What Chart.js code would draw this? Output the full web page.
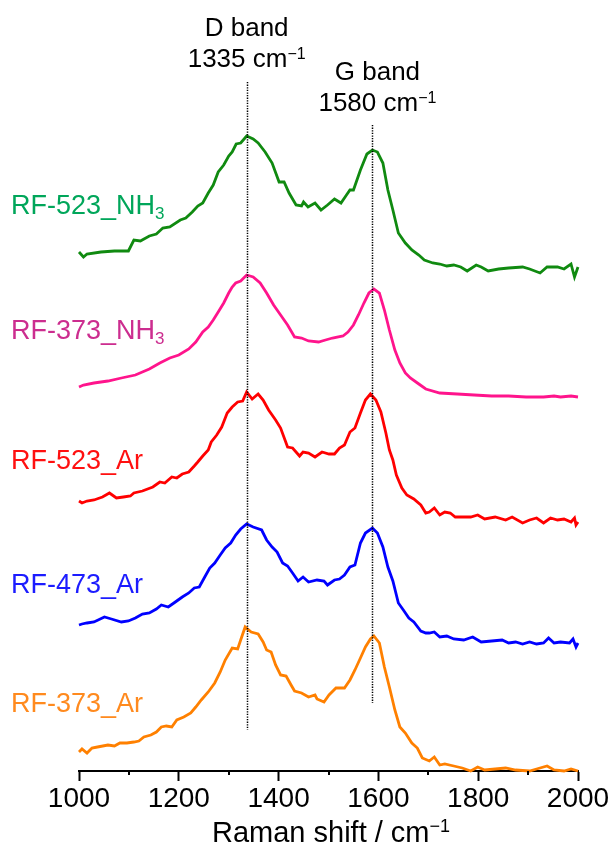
<!DOCTYPE html>
<html>
<head>
<meta charset="utf-8">
<script src="https://cdn.jsdelivr.net/npm/chart.js@4.4.1/dist/chart.umd.min.js"></script>
<style>
  html, body { margin: 0; padding: 0; background: #fff; }
  #wrap { width: 613px; height: 854px; }
</style>
</head>
<body>
<div id="wrap"><canvas id="raman" width="613" height="854"></canvas></div>
<script>
// Raman spectra, stacked (intensity in a.u., vertical offset already included)
const shift_523NH3 = [1000,1009,1016,1044,1071,1099,1110,1123,1141,1155,1168,1182,1203,1214,1227,1238,1248,1259,1269,1279,1290,1300,1307,1315,1324,1336,1349,1359,1373,1387,1401,1411,1421,1435,1446,1450,1459,1473,1485,1498,1512,1525,1536,1543,1550,1564,1577,1588,1598,1609,1619,1629,1640,1654,1667,1681,1692,1709,1723,1737,1751,1765,1778,1796,1806,1820,1841,1861,1889,1903,1924,1938,1959,1972,1986,1993,2000];
const int_523NH3 = [519,514,517,519,520,520,531,530,535,537,543,544,551,553,559,565,568,578,586,599,606,615,619,627,628,635,632,628,619,608,589,589,578,566,565,569,564,568,561,566,572,568,576,581,581,601,617,621,619,608,581,561,538,528,521,516,511,508,507,505,506,504,500,506,504,500,502,503,504,502,498,504,504,502,507,494,504];

const shift_373NH3 = [1000,1009,1030,1058,1085,1113,1141,1162,1182,1200,1220,1234,1248,1259,1269,1279,1290,1300,1307,1314,1324,1336,1349,1363,1376,1390,1404,1418,1432,1446,1460,1480,1494,1508,1529,1539,1550,1560,1571,1581,1591,1602,1612,1622,1633,1643,1654,1664,1681,1695,1723,1758,1792,1827,1861,1896,1931,1952,1965,1986,2000];
const int_373NH3 = [384,386,388,390,393,396,402,408,413,416,422,429,439,444,451,459,468,478,484,488,490,496,494,488,478,466,456,446,434,433,430,429,431,433,435,439,446,456,468,478,482,478,461,441,421,408,398,393,387,382,378,377,376,375,375,374,374,375,374,375,374];

const shift_523Ar = [1000,1006,1016,1030,1047,1061,1075,1089,1103,1110,1127,1148,1162,1172,1186,1196,1207,1220,1231,1238,1248,1259,1265,1276,1286,1297,1307,1318,1328,1336,1347,1359,1369,1380,1394,1404,1418,1428,1442,1449,1460,1473,1487,1501,1512,1522,1532,1543,1553,1564,1574,1584,1595,1605,1615,1622,1629,1636,1647,1657,1671,1685,1695,1702,1712,1723,1733,1744,1754,1771,1785,1799,1813,1834,1855,1868,1889,1903,1917,1931,1945,1959,1972,1986,1993,1996,2000];
const int_523Ar = [270,268,270,271,274,278,273,274,275,278,280,284,289,288,294,293,297,299,305,309,315,321,329,336,344,358,364,369,370,379,372,377,371,361,351,343,324,323,315,319,318,314,319,317,317,323,326,339,343,358,371,377,371,359,338,321,311,296,283,276,272,266,258,259,263,256,259,258,254,254,254,256,252,254,251,254,248,251,253,248,253,251,252,249,253,246,249];

const shift_473Ar = [1000,1006,1016,1030,1051,1065,1085,1099,1113,1127,1141,1155,1165,1179,1193,1207,1220,1231,1241,1252,1262,1272,1283,1293,1304,1314,1324,1336,1349,1366,1376,1387,1397,1408,1418,1428,1439,1449,1460,1477,1491,1498,1512,1522,1532,1543,1553,1564,1574,1588,1598,1609,1619,1629,1640,1650,1661,1671,1685,1695,1702,1712,1723,1737,1751,1771,1789,1806,1827,1848,1861,1875,1889,1903,1917,1931,1941,1952,1965,1983,1990,1996,2000];
const int_473Ar = [146,147,148,149,154,152,149,150,153,157,158,162,166,164,169,174,178,183,184,194,203,208,216,223,228,236,242,247,244,241,231,224,219,208,205,198,190,194,189,191,190,186,191,192,196,204,206,228,238,243,238,224,204,190,168,161,153,149,140,138,138,139,134,135,132,131,134,129,130,131,128,129,127,129,127,128,133,128,129,128,132,124,128];

const shift_373Ar = [1000,1006,1016,1026,1037,1058,1071,1082,1096,1110,1120,1130,1144,1155,1165,1175,1186,1196,1210,1224,1234,1245,1259,1272,1283,1293,1307,1318,1324,1333,1345,1359,1369,1376,1385,1394,1404,1415,1425,1432,1446,1460,1473,1477,1491,1501,1515,1532,1543,1553,1564,1574,1584,1591,1602,1612,1622,1633,1643,1654,1667,1678,1688,1702,1712,1723,1733,1751,1768,1785,1799,1813,1834,1855,1875,1903,1917,1938,1952,1972,1986,2000];
const int_373Ar = [19,22,18,23,24,26,25,28,28,29,30,34,36,39,44,45,44,51,54,58,64,71,79,88,99,111,123,122,131,144,139,137,129,121,119,106,96,95,86,80,78,74,76,72,69,76,83,83,91,101,113,124,132,135,128,104,84,61,44,38,28,23,13,10,14,6,7,5,3,0,4,1,2,3,1,0,2,5,1,0,2,0];

const sampleNames = ['RF-523_NH', 'RF-373_NH', 'RF-523_Ar', 'RF-473_Ar', 'RF-373_Ar'];
const sampleSubs  = ['3', '3', '', '', ''];

// band markers
const bandNames = ['D band', 'G band'];
const bandShift = [1335, 1580];
const bandLinePos = [1336, 1588];
const bandLineTop = [689, 646];
const bandLineBottom = [41, 68];

const xTicks = [1000, 1200, 1400, 1600, 1800, 2000];
const xMinorTicks = [1100, 1300, 1500, 1700, 1900];

const FONT = '"Liberation Sans", Arial, sans-serif';
const lineColors  = ['#108a10', '#ff148c', '#ff0000', '#0000ff', '#ff8000'];
const labelColors = ['#00a65a', '#cc2d8f', '#ff1010', '#1c1cff', '#ff8a1e'];
const labelBase   = [214, 339, 469, 593, 712];

const shifts = [shift_523NH3, shift_373NH3, shift_523Ar, shift_473Ar, shift_373Ar];
const ints = [int_523NH3, int_373NH3, int_523Ar, int_473Ar, int_373Ar];

const datasets = shifts.map((xs, i) => ({
    label: sampleNames[i] + sampleSubs[i],
    data: xs.map((v, j) => ({ x: v, y: ints[i][j] })),
    borderColor: lineColors[i],
    borderWidth: 2.8,
    pointRadius: 0,
    tension: 0,
    clip: false,
}));

function textWithScript(ctx, main, extra, x, base, size, extraSize, shiftY, align) {
    ctx.font = size + 'px ' + FONT;
    const w1 = ctx.measureText(main).width;
    ctx.font = extraSize + 'px ' + FONT;
    const w2 = ctx.measureText(extra).width;
    const x0 = align === 'center' ? x - (w1 + w2) / 2 : x;
    ctx.textAlign = 'left';
    ctx.textBaseline = 'alphabetic';
    ctx.font = size + 'px ' + FONT;
    ctx.fillText(main, x0, base);
    if (extra) {
        ctx.font = extraSize + 'px ' + FONT;
        ctx.fillText(extra, x0 + w1, base + shiftY);
    }
}

const annotations = {
    id: 'annotations',
    afterDatasetsDraw(chart) {
        const { ctx, chartArea } = chart;
        const x = chart.scales.x, y = chart.scales.y;
        ctx.save();

        // minor ticks
        ctx.strokeStyle = '#000';
        ctx.lineWidth = 2;
        xMinorTicks.forEach(v => {
            const px = Math.round(x.getPixelForValue(v));
            ctx.beginPath();
            ctx.moveTo(px, chartArea.bottom);
            ctx.lineTo(px, chartArea.bottom + 4);
            ctx.stroke();
        });

        // dotted band lines
        ctx.lineWidth = 1.5;
        ctx.setLineDash([1.3, 1.3]);
        bandLinePos.forEach((v, i) => {
            const px = Math.round(x.getPixelForValue(v)) + 0.5;
            ctx.beginPath();
            ctx.moveTo(px, y.getPixelForValue(bandLineTop[i]));
            ctx.lineTo(px, y.getPixelForValue(bandLineBottom[i]));
            ctx.stroke();
        });
        ctx.setLineDash([]);

        // band labels
        ctx.fillStyle = '#000';
        const bandDx = [0, 5];
        const bandBase = [36, 80];
        bandNames.forEach((name, i) => {
            const cx = x.getPixelForValue(bandLinePos[i]) + bandDx[i];
            textWithScript(ctx, name, '', cx, bandBase[i], 26, 16, 0, 'center');
            textWithScript(ctx, bandShift[i] + ' cm', '\u22121', cx, bandBase[i] + 31, 26, 16, -8, 'center');
        });

        // sample labels
        sampleNames.forEach((name, i) => {
            ctx.fillStyle = labelColors[i];
            textWithScript(ctx, name, sampleSubs[i], 11, labelBase[i], 27, 17, 5, 'left');
        });

        // axis title
        ctx.fillStyle = '#000';
        textWithScript(ctx, 'Raman shift / cm', '\u22121', 331, 842, 29, 18, -10, 'center');

        ctx.restore();
    }
};

new Chart(document.getElementById('raman'), {
    type: 'line',
    data: { datasets },
    options: {
        responsive: false,
        animation: false,
        devicePixelRatio: 1,
        layout: { padding: { left: 79, right: 35, top: 0, bottom: 0 } },
        plugins: { legend: { display: false }, tooltip: { enabled: false } },
        scales: {
            x: {
                type: 'linear',
                min: 1000,
                max: 2000,
                afterFit: s => { s.height = 83; },
                afterBuildTicks: s => { s.ticks = xTicks.map(v => ({ value: v })); },
                ticks: {
                    color: '#000',
                    font: { family: FONT, size: 28 },
                    padding: 1,
                    maxRotation: 0,
                    autoSkip: false,
                    callback: v => String(v),
                },
                grid: { drawOnChartArea: false, drawTicks: true, tickLength: 10, tickWidth: 2, tickColor: '#000' },
                border: { display: true, color: '#000', width: 2 },
            },
            y: { display: false, min: 0, max: 771 },
        },
    },
    plugins: [annotations],
});
</script>
</body>
</html>
